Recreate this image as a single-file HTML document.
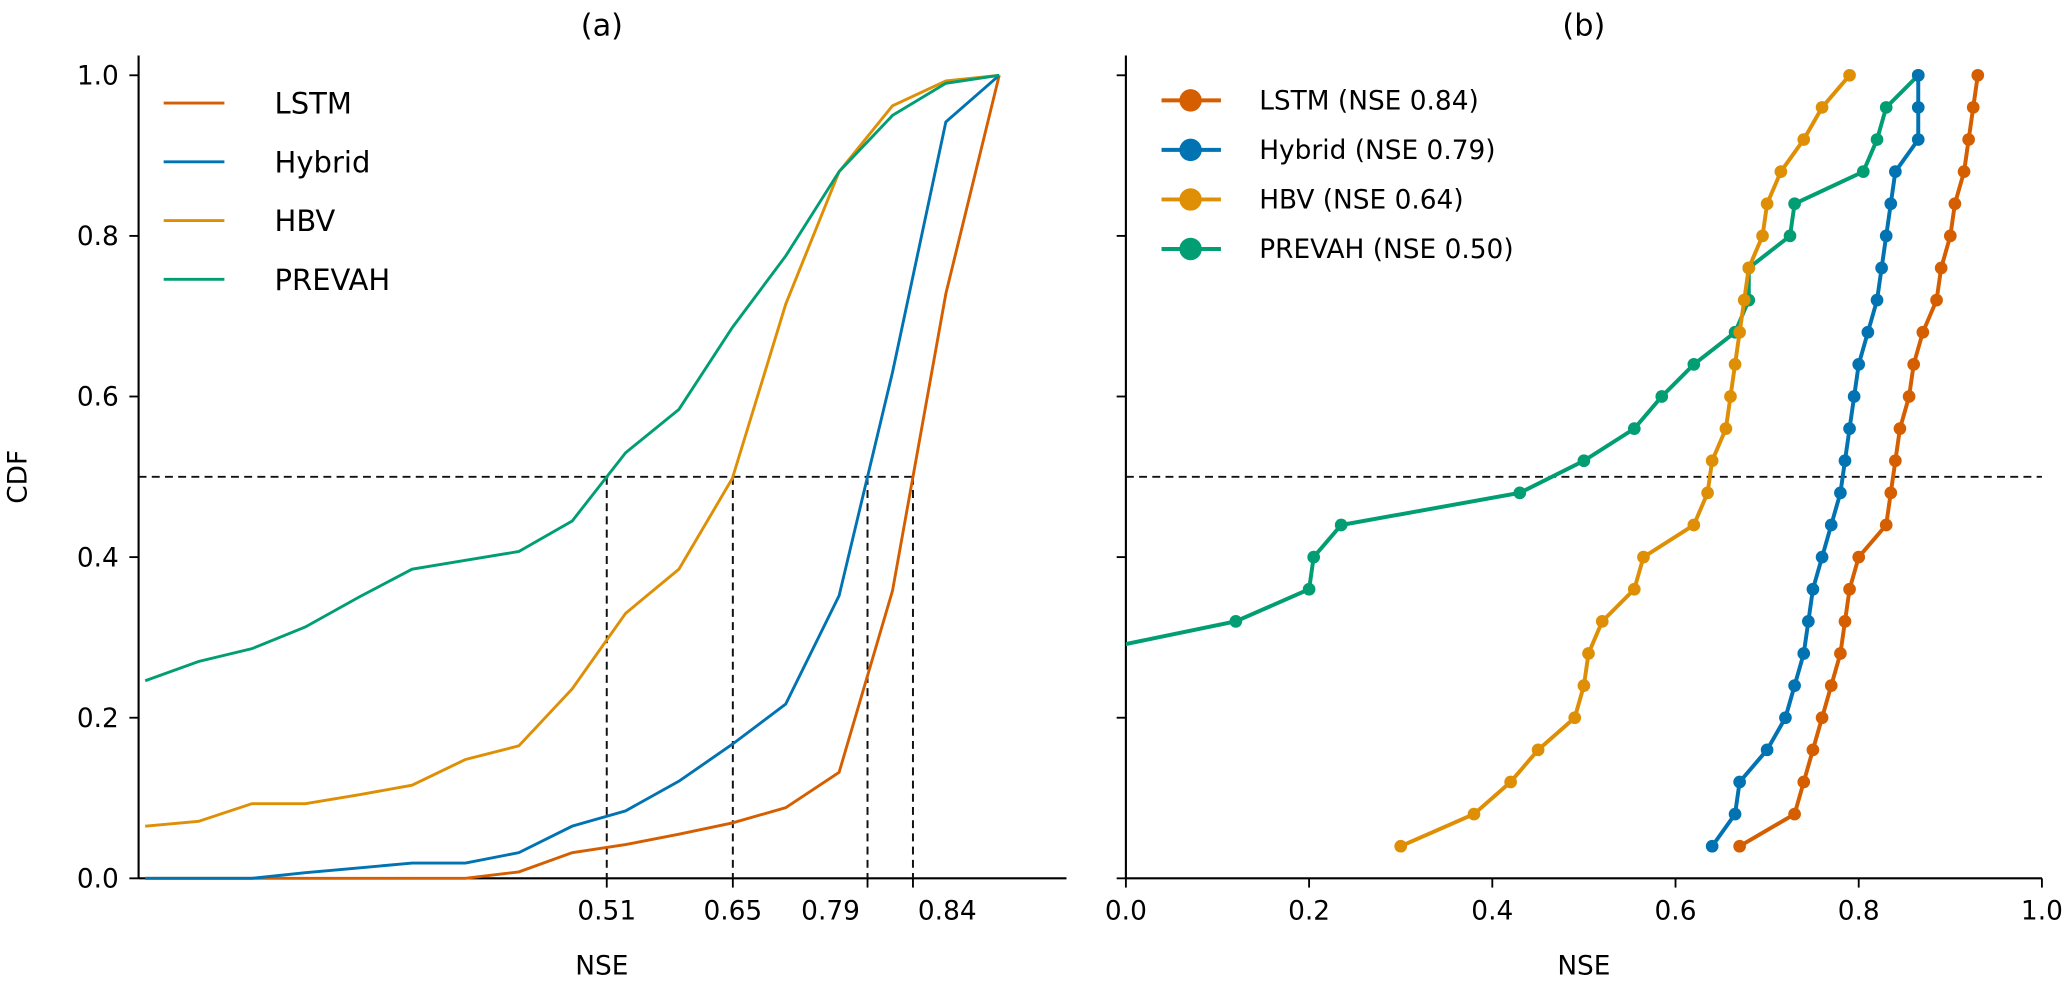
<!DOCTYPE html>
<html><head><meta charset="utf-8"><style>
html,body{margin:0;padding:0;background:#fff;}
svg{display:block;font-family:"DejaVu Sans","Liberation Sans",sans-serif;}
</style></head><body>
<svg id="chart" width="2067" height="984" viewBox="0 0 1566 745" preserveAspectRatio="none" xmlns="http://www.w3.org/2000/svg">
<defs><clipPath id="clipB"><rect x="853" y="40" width="700" height="626"/></clipPath></defs>
<g id="panelA"></g>
<g id="panelB"></g>
</svg>
<script>
const cdfTicks = [0, 0.2, 0.4, 0.6, 0.8, 1.0];
const nseTicksB = [0, 0.2, 0.4, 0.6, 0.8, 1.0];
const seriesNames = ["LSTM", "Hybrid", "HBV", "PREVAH"];
const medianLabelsA = ["0.51", "0.65", "0.79", "0.84"];
// Panel (a): CDF values at 17 equally spaced NSE bins
const aLSTM   = [0,0,0,0,0,0,0,0.008,0.032,0.042,0.055,0.069,0.088,0.132,0.358,0.728,1.0];
const aHybrid = [0,0,0,0.007,0.013,0.019,0.019,0.032,0.065,0.084,0.121,0.167,0.217,0.352,0.63,0.942,1.0];
const aHBV    = [0.065,0.071,0.093,0.093,0.104,0.116,0.148,0.165,0.236,0.330,0.385,0.498,0.715,0.88,0.962,0.993,1.0];
const aPREVAH = [0.246,0.270,0.286,0.313,0.350,0.385,0.396,0.407,0.445,0.53,0.584,0.686,0.775,0.88,0.95,0.99,1.0];
// Panel (b): sorted NSE per catchment, CDF levels
const bLevels = [0.04,0.08,0.12,0.16,0.20,0.24,0.28,0.32,0.36,0.40,0.44,0.48,0.52,0.56,0.60,0.64,0.68,0.72,0.76,0.80,0.84,0.88,0.92,0.96,1.0];
const bLSTM   = [0.67,0.73,0.74,0.75,0.76,0.77,0.78,0.785,0.79,0.80,0.83,0.835,0.84,0.845,0.855,0.86,0.87,0.885,0.89,0.90,0.905,0.915,0.92,0.925,0.93];
const bHybrid = [0.64,0.665,0.67,0.70,0.72,0.73,0.74,0.745,0.75,0.76,0.77,0.78,0.785,0.79,0.795,0.80,0.81,0.82,0.825,0.83,0.835,0.84,0.865,0.865,0.865];
const bHBV    = [0.30,0.38,0.42,0.45,0.49,0.50,0.505,0.52,0.555,0.565,0.62,0.635,0.64,0.655,0.66,0.665,0.67,0.675,0.68,0.695,0.70,0.715,0.74,0.76,0.79];
const bPREVAH = [-3,-1.5,-0.9,-0.6,-0.3,-0.15,-0.05,0.12,0.20,0.205,0.235,0.43,0.50,0.555,0.585,0.62,0.665,0.68,0.68,0.725,0.73,0.805,0.82,0.83,0.865];
const bMedians = ["0.84","0.79","0.64","0.50"];

const colors = ["#d55e00","#0173b2","#de8f05","#029e73"];
const labelShift = [0,0,-28,26];
const NS = "http://www.w3.org/2000/svg";
function mk(tag, attrs, parent){const e=document.createElementNS(NS,tag);for(const k in attrs)e.setAttribute(k,attrs[k]);parent.appendChild(e);return e;}
const yS = v => 665 - 608*v;
const xA = i => 110 + i*40.44;
const xB = v => 853 + 694*v;
const A = document.getElementById('panelA'), B = document.getElementById('panelB');

// ---------- Panel A ----------
let t = mk('text',{x:456,y:27,'font-size':23,'text-anchor':'middle'},A); t.textContent='(a)';
 
let ax = mk('line',{x1:105,y1:42,x2:105,y2:665,stroke:'#000','stroke-width':1.6},A);
 
ax = mk('line',{x1:105,y1:665,x2:808,y2:665,stroke:'#000','stroke-width':1.6},A);
 
cdfTicks.forEach(v=>{
  const l=mk('line',{x1:98,y1:yS(v),x2:105,y2:yS(v),stroke:'#000','stroke-width':1.4},A);
   
  const tx=mk('text',{x:90,y:yS(v)+7,'font-size':20,'text-anchor':'end'},A); tx.textContent=v.toFixed(1);
   
});
t = mk('text',{x:0,y:0,'font-size':20,'text-anchor':'middle',transform:'translate(20,361) rotate(-90)'},A); t.textContent='CDF';
 
t = mk('text',{x:456,y:738,'font-size':20,'text-anchor':'middle'},A); t.textContent='NSE';
 

const aSeries=[aLSTM,aHybrid,aHBV,aPREVAH];
function crossing(arr){for(let i=0;i<arr.length-1;i++){if(arr[i]<=0.5&&arr[i+1]>=0.5){return i+(0.5-arr[i])/(arr[i+1]-arr[i]);}}return arr.length-1;}
const crosses = aSeries.map(crossing);
const maxCross = Math.max(...crosses);
let hl = mk('line',{x1:105,y1:yS(0.5),x2:xA(maxCross),y2:yS(0.5),stroke:'#111','stroke-width':1.5,'stroke-dasharray':'6,4'},A);
 
const order = crosses.map((c,i)=>[c,i]).sort((a,b)=>a[0]-b[0]);
order.forEach(([c,i],k)=>{
  const vl=mk('line',{x1:xA(c),y1:yS(0.5),x2:xA(c),y2:665,stroke:'#111','stroke-width':1.5,'stroke-dasharray':'6,4'},A);
   
  const tk=mk('line',{x1:xA(c),y1:665,x2:xA(c),y2:672,stroke:'#000','stroke-width':1.4},A);
   
  const tx=mk('text',{x:xA(c)+labelShift[k],y:696,'font-size':20,'text-anchor':'middle'},A); tx.textContent=medianLabelsA[k];
   
});
aSeries.forEach((arr,s)=>{
  const p=mk('polyline',{points:arr.map((v,i)=>xA(i)+','+yS(v)).join(' '),fill:'none',stroke:colors[s],'stroke-width':2.2},A);
   
});
seriesNames.forEach((n,s)=>{
  const y=78+44.5*s;
  const g=mk('g',{},A);
   
  mk('line',{x1:124,y1:y,x2:170,y2:y,stroke:colors[s],'stroke-width':2.2},g);
  const tx=mk('text',{x:208,y:y+8,'font-size':22},g); tx.textContent=n;
});

// ---------- Panel B ----------
t = mk('text',{x:1200,y:27,'font-size':23,'text-anchor':'middle'},B); t.textContent='(b)';
 
ax = mk('line',{x1:853,y1:42,x2:853,y2:665,stroke:'#000','stroke-width':1.6},B);
 
ax = mk('line',{x1:853,y1:665,x2:1547,y2:665,stroke:'#000','stroke-width':1.6},B);
 
cdfTicks.forEach(v=>{
  const l=mk('line',{x1:846,y1:yS(v),x2:853,y2:yS(v),stroke:'#000','stroke-width':1.4},B);
   
});
nseTicksB.forEach(v=>{
  const l=mk('line',{x1:xB(v),y1:665,x2:xB(v),y2:672,stroke:'#000','stroke-width':1.4},B);
   
  const tx=mk('text',{x:xB(v),y:696,'font-size':20,'text-anchor':'middle'},B); tx.textContent=v.toFixed(1);
   
});
t = mk('text',{x:1200,y:738,'font-size':20,'text-anchor':'middle'},B); t.textContent='NSE';
 
hl = mk('line',{x1:853,y1:yS(0.5),x2:1547,y2:yS(0.5),stroke:'#111','stroke-width':1.5,'stroke-dasharray':'6,4'},B);
 
const bSeries=[bLSTM,bHybrid,bHBV,bPREVAH];
const drawOrder=[3,2,1,0];
drawOrder.forEach(s=>{
  const arr=bSeries[s];
  const g=mk('g',{'clip-path':'url(#clipB)'},B);
   
  mk('polyline',{points:arr.map((v,i)=>xB(v)+','+yS(bLevels[i])).join(' '),fill:'none',stroke:colors[s],'stroke-width':3},g);
  arr.forEach((v,i)=>{
    if(v<0) return;
    const c=mk('circle',{cx:xB(v),cy:yS(bLevels[i]),r:4.8,fill:colors[s]},g);
     
  });
});
seriesNames.forEach((n,s)=>{
  const y=76+37.5*s;
  const g=mk('g',{},B);
   
  mk('line',{x1:880,y1:y,x2:925,y2:y,stroke:colors[s],'stroke-width':3},g);
  mk('circle',{cx:902,cy:y,r:8.5,fill:colors[s]},g);
  const tx=mk('text',{x:954,y:y+7,'font-size':20},g); tx.textContent=n+' (NSE '+bMedians[s]+')';
});
</script>
</body></html>
